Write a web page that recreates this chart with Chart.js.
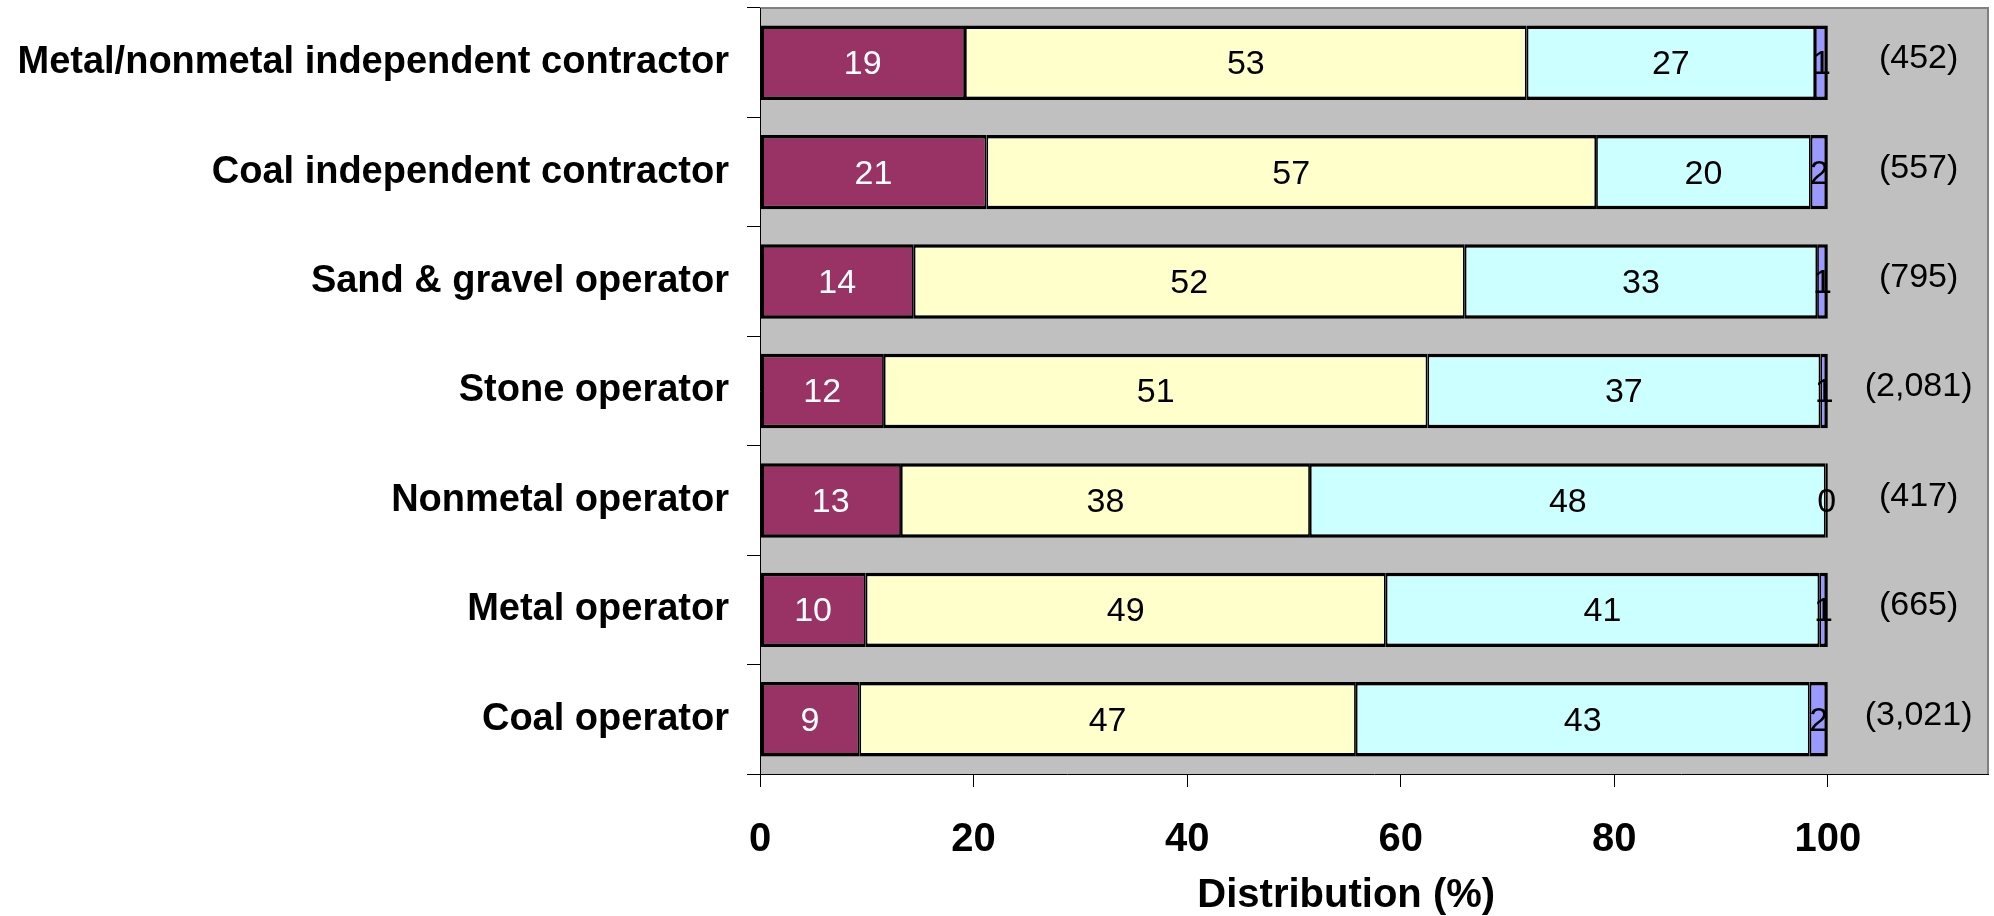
<!DOCTYPE html>
<html>
<head>
<meta charset="utf-8">
<title>Distribution (%) by operator type</title>
<script src="https://cdn.jsdelivr.net/npm/chart.js@4.4.1/dist/chart.umd.min.js"></script>
<style>
  html, body { margin: 0; padding: 0; background: #fff; }
  canvas { display: block; }
</style>
</head>
<body>
<canvas id="distChart" width="1994" height="916"></canvas>
<script>
const categories = [
  "Metal/nonmetal independent contractor",
  "Coal independent contractor",
  "Sand & gravel operator",
  "Stone operator",
  "Nonmetal operator",
  "Metal operator",
  "Coal operator"
];

// percentages (the labels show them rounded)
const series1 = [19.2, 21.2, 14.4, 11.6, 13.2, 9.9, 9.3];
const series2 = [52.6, 57.1, 51.6, 50.9, 38.3, 48.7, 46.5];
const series3 = [27.0, 20.1, 33.0, 36.8, 48.3, 40.6, 42.5];
const series4 = [1.2, 1.6, 1.0, 0.7, 0.2, 0.8, 1.7];

// number of cases, shown in brackets right of each bar
const counts = [452, 557, 795, 2081, 417, 665, 3021];

const xTicks = [0, 20, 40, 60, 80, 100];

const FONT = "'Liberation Sans', Arial, sans-serif";

// grey plot area with the darker frame on top and right
const plotBackground = {
  id: "plotBackground",
  beforeDraw(chart) {
    const { ctx, chartArea: a } = chart;
    ctx.save();
    ctx.fillStyle = "#c0c0c0";
    ctx.fillRect(a.left, a.top, a.right - a.left, a.bottom - a.top);
    ctx.strokeStyle = "#808080";
    ctx.lineWidth = 2;
    ctx.beginPath();
    ctx.moveTo(a.left, a.top);
    ctx.lineTo(a.right, a.top);
    ctx.lineTo(a.right, a.bottom);
    ctx.stroke();
    ctx.restore();
  }
};

// value labels in the bars + counts on the right
const barLabels = {
  id: "barLabels",
  afterDatasetsDraw(chart) {
    const ctx = chart.ctx;
    ctx.save();
    ctx.font = "34px " + FONT;
    ctx.textAlign = "center";
    ctx.textBaseline = "middle";
    chart.data.datasets.forEach((ds, i) => {
      chart.getDatasetMeta(i).data.forEach((bar, j) => {
        const p = bar.getProps(["x", "y", "base"], true);
        ctx.fillStyle = i === 0 ? "#fff" : "#000";
        ctx.fillText(Math.round(ds.data[j]), (p.x + p.base) / 2, p.y + 2);
      });
    });
    const xs = chart.scales.x;
    const ys = chart.scales.y;
    ctx.fillStyle = "#000";
    counts.forEach((n, j) => {
      ctx.fillText("(" + n.toLocaleString("en-US") + ")", xs.getPixelForValue(108.5), ys.getPixelForValue(j) - 4);
    });
    ctx.restore();
  }
};

const edge = 3.5, inner = 1.75;

new Chart(document.getElementById("distChart"), {
  type: "bar",
  data: {
    labels: categories,
    datasets: [
      { label: "Series 1", data: series1, backgroundColor: "#993366",
        borderWidth: { left: edge, right: inner, top: edge, bottom: edge } },
      { label: "Series 2", data: series2, backgroundColor: "#ffffcc",
        borderWidth: { left: inner, right: inner, top: edge, bottom: edge } },
      { label: "Series 3", data: series3, backgroundColor: "#ccffff",
        borderWidth: { left: inner, right: inner, top: edge, bottom: edge } },
      { label: "Series 4", data: series4, backgroundColor: "#9999ff",
        borderWidth: { left: inner, right: edge, top: edge, bottom: edge } }
    ]
  },
  options: {
    indexAxis: "y",
    responsive: false,
    animation: false,
    layout: { padding: { top: 8, right: 6, left: 0, bottom: 0 } },
    datasets: {
      bar: {
        categoryPercentage: 1,
        barPercentage: 0.68,
        borderColor: "#000",
        borderSkipped: false
      }
    },
    plugins: {
      legend: { display: false },
      tooltip: { enabled: false }
    },
    scales: {
      x: {
        stacked: true,
        min: 0,
        max: 115,
        afterBuildTicks: s => { s.ticks = xTicks.map(v => ({ value: v })); },
        afterFit: s => { s.height = 142; s.paddingLeft = 0; s.paddingRight = 0; },
        grid: { drawOnChartArea: false, color: "#000", tickLength: 13 },
        border: { color: "#000", width: 1 },
        ticks: {
          color: "#000",
          padding: 29,
          maxRotation: 0,
          font: { family: FONT, size: 40, weight: "bold" }
        },
        title: {
          display: true,
          text: "Distribution (%)     ",
          color: "#000",
          padding: { top: 0, bottom: 0 },
          font: { family: FONT, size: 40, weight: "bold", lineHeight: 1 }
        }
      },
      y: {
        stacked: true,
        afterFit: s => { s.width = 760; s.paddingTop = 0; s.paddingBottom = 0; },
        grid: { drawOnChartArea: false, color: "#000", tickLength: 13, offset: true },
        border: { color: "#000", width: 1 },
        ticks: {
          color: "#000",
          padding: 18,
          autoSkip: false,
          font: { family: FONT, size: 38, weight: "bold" }
        }
      }
    }
  },
  plugins: [plotBackground, barLabels]
});
</script>
</body>
</html>
